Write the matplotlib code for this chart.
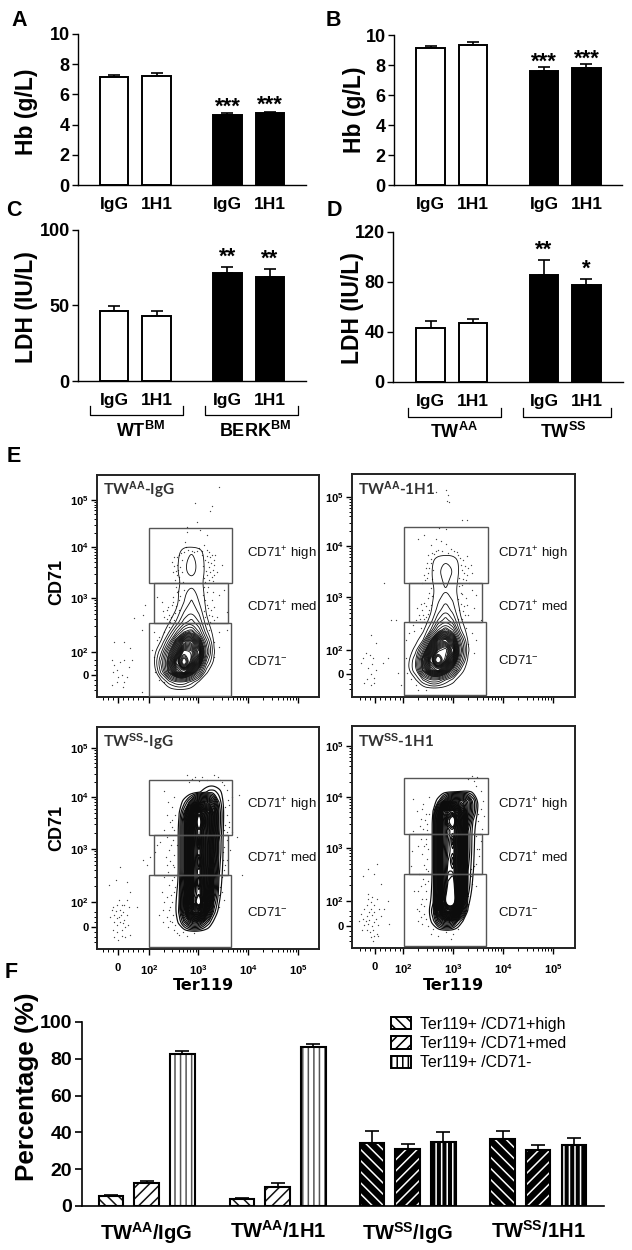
import numpy as np
import matplotlib
matplotlib.use('Agg')
import matplotlib.pyplot as plt
from matplotlib.collections import LineCollection
from matplotlib.lines import Line2D
from matplotlib.patches import Patch, Rectangle

plt.rcParams['font.family'] = ['Liberation Sans', 'DejaVu Sans']
plt.rcParams['mathtext.fontset'] = 'custom'
plt.rcParams['mathtext.rm'] = 'Liberation Sans'
plt.rcParams['mathtext.bf'] = 'Liberation Sans:bold'
plt.rcParams['mathtext.default'] = 'regular'
plt.rcParams['hatch.linewidth'] = 1.1

W, H = 632, 1250

# ---------- data: bar panels ----------
ab_labels = ['IgG', '1H1', 'IgG', '1H1']
hb_a = [7.15, 7.2, 4.65, 4.75]
hb_a_err = [0.15, 0.2, 0.1, 0.1]
hb_b = [9.15, 9.35, 7.6, 7.8]
hb_b_err = [0.15, 0.2, 0.25, 0.25]
ldh_c = [46.5, 43, 71.5, 69]
ldh_c_err = [3, 3.5, 4, 5.5]
ldh_d = [43, 47.5, 86, 77.5]
ldh_d_err = [6, 3, 12, 5]
stars_a = ['', '', '***', '***']
stars_b = ['', '', '***', '***']
stars_c = ['', '', '**', '**']
stars_d = ['', '', '**', '*']

f_groups = ['TW$^{\\mathbf{AA}}$/IgG', 'TW$^{\\mathbf{AA}}$/1H1',
            'TW$^{\\mathbf{SS}}$/IgG', 'TW$^{\\mathbf{SS}}$/1H1']
f_series = ['Ter119+ /CD71+high', 'Ter119+ /CD71+med', 'Ter119+ /CD71-']
f_high = [5.3, 3.8, 34.5, 36.5]
f_med = [12.3, 10.3, 30.8, 30.2]
f_neg = [82.5, 86.2, 34.8, 33.0]
f_high_err = [0.5, 0.5, 6.5, 4.2]
f_med_err = [1.3, 2.0, 2.7, 3.2]
f_neg_err = [1.6, 1.6, 5.5, 3.7]

# ---------- data: flow cytometry density grids (rows from top to bottom) ----------
aa_x = [2.1, 2.25, 2.4, 2.55, 2.7, 2.85, 3.0, 3.15, 3.3, 3.45]
aa_y = [4.2, 4.0, 3.8, 3.6, 3.4, 3.2, 3.0, 2.8, 2.6, 2.4, 2.2, 2.0, 1.8, 1.6, 1.4, 1.2]
aa_igg_z = [
    [0, 0, 0, 0, 0, 0, 0, 0, 0, 0],
    [0, 0, 0, .4, 1.8, 2.0, 1.6, .4, 0, 0],
    [0, 0, 0, .8, 1.7, 2.6, 1.6, .7, 0, 0],
    [0, 0, 0, .8, 1.8, 2.4, 1.7, .7, 0, 0],
    [0, 0, 0, .6, 1.4, 1.6, 1.4, .6, 0, 0],
    [0, 0, 0, .7, 1.8, 2.4, 1.7, .6, 0, 0],
    [0, 0, 0, .7, 2.0, 3.2, 2.0, .7, 0, 0],
    [0, 0, .3, 1.2, 3.0, 4.0, 2.8, .9, 0, 0],
    [0, 0, .9, 2.2, 4.5, 5.5, 4.0, 1.3, .2, 0],
    [0, .4, 2.0, 5.0, 8.0, 9.0, 6.0, 2.3, .5, 0],
    [0, 1.2, 4.5, 10., 15., 15., 11., 4.5, .9, 0],
    [.6, 3.0, 8.0, 13., 20., 19., 15., 6.0, 1.1, 0],
    [.9, 4.5, 10., 17., 26., 18., 12., 3.5, .8, 0],
    [.3, 3.5, 9.0, 14., 16., 11., 6.0, 1.2, .1, 0],
    [0, .6, 2.5, 4.0, 4.0, 2.5, .8, 0, 0, 0],
    [0, 0, 0, 0, 0, 0, 0, 0, 0, 0]]
aa_1h1_z = [
    [0, 0, 0, 0, 0, 0, 0, 0, 0, 0],
    [0, 0, 0, 0, 0, 0, 0, 0, 0, 0],
    [0, 0, 0, .6, 1.6, 1.9, 1.7, .6, 0, 0],
    [0, 0, 0, .8, 1.8, 2.6, 2.0, .7, 0, 0],
    [0, 0, 0, .8, 1.6, 2.3, 1.7, .6, 0, 0],
    [0, 0, 0, .5, 1.5, 2.0, 1.5, .4, 0, 0],
    [0, 0, 0, .6, 1.8, 2.8, 1.9, .5, 0, 0],
    [0, 0, .1, .8, 2.4, 3.9, 2.5, .8, 0, 0],
    [0, 0, .3, 1.3, 4.0, 5.5, 4.0, 1.2, .1, 0],
    [0, 0, .7, 3.0, 7.0, 9.0, 7.0, 2.2, .4, 0],
    [0, .5, 2.0, 8.0, 14., 16., 12., 5.0, .9, 0],
    [.2, 1.5, 6.0, 13., 19., 21., 16., 7.0, 1.2, 0],
    [.7, 3.0, 10., 17., 27., 19., 13., 5.0, .8, 0],
    [.8, 3.0, 9.0, 14., 16., 12., 7.0, 2.0, .1, 0],
    [0, .8, 3.0, 5.0, 5.0, 3.0, 1.5, .1, 0, 0],
    [0, 0, 0, 0, 0, 0, 0, 0, 0, 0]]

ss_x = [2.4, 2.5, 2.6, 2.7, 2.8, 2.9, 3.0, 3.1, 3.2, 3.3, 3.4, 3.5, 3.6]
ss_y = [4.4, 4.2, 4.0, 3.8, 3.6, 3.4, 3.2, 3.0, 2.8, 2.6, 2.4, 2.2, 2.0, 1.8, 1.6, 1.4]
ss_igg_z = [
    [0, 0, 0, 0, 0, 0, 0, 0, 0, 0, 0, 0, 0],
    [0, 0, 0, 0, 0, .3, .8, 1.5, 2.5, 2.5, 1.5, .5, 0],
    [0, 0, .3, 1.5, 4, 8, 12, 14, 12, 8, 3, .6, 0],
    [0, 0, .9, 4, 12, 24, 33, 26, 20, 12, 4, .8, 0],
    [0, 0, 1.1, 6, 16, 28, 40, 28, 20, 12, 4, .7, 0],
    [0, 0, 1.2, 6, 17, 27, 33, 26, 20, 11, 3.5, .6, 0],
    [0, 0, 1.2, 6, 17, 27, 35, 26, 19, 10, 3, .5, 0],
    [0, 0, 1.2, 6, 17, 28, 33, 26, 19, 10, 3, .5, 0],
    [0, 0, 1.2, 6, 17, 28, 36, 26, 19, 9, 2.5, .5, 0],
    [0, 0, 1.2, 6, 17, 29, 33, 26, 18, 8, 2.2, .4, 0],
    [0, 0, 1.3, 7, 18, 29, 36, 26, 18, 7, 1.8, .3, 0],
    [0, .2, 1.6, 8, 19, 30, 33, 26, 16, 6, 1.5, .2, 0],
    [0, .3, 2, 9, 20, 32, 40, 26, 14, 4, 1.1, 0, 0],
    [0, .3, 2.2, 8, 17, 24, 24, 17, 8, 2.5, .5, 0, 0],
    [0, .2, 1.3, 4, 7, 9, 8, 5, 2.5, .6, 0, 0, 0],
    [0, 0, 0, .1, .3, .4, .3, .1, 0, 0, 0, 0, 0]]
ss_1h1_z = [
    [0, 0, 0, 0, 0, 0, 0, 0, 0, 0, 0, 0, 0],
    [0, 0, 0, 0, 0, 0, 0, .3, .8, 1, .6, 0, 0],
    [0, 0, .3, 1.5, 5, 9, 12, 12, 11, 8, 4, 1, 0],
    [0, 0, 1, 8, 24, 28, 30, 24, 16, 8, 4, .8, 0],
    [0, 0, 1.2, 10, 26, 34, 40, 27, 18, 6, 2, .3, 0],
    [0, 0, 1.2, 10, 26, 30, 32, 26, 17, 4, 1.5, .1, 0],
    [0, 0, 1.2, 10, 26, 31, 35, 26, 16, 4, 1.4, .1, 0],
    [0, 0, 1.2, 10, 27, 31, 33, 26, 16, 4, 1.3, .1, 0],
    [0, 0, 1.2, 10, 27, 32, 35, 26, 16, 3.5, 1.2, 0, 0],
    [0, 0, 1.2, 10, 27, 33, 33, 26, 15, 3, 1.1, 0, 0],
    [0, 0, 1.3, 10, 28, 34, 36, 26, 15, 3, .8, 0, 0],
    [0, .1, 1.4, 10, 28, 36, 38, 26, 14, 2.5, .4, 0, 0],
    [0, .3, 1.6, 12, 30, 40, 42, 24, 10, 1.5, .1, 0, 0],
    [0, .5, 3, 12, 22, 28, 25, 16, 6, .8, 0, 0, 0],
    [0, .3, 1.6, 5, 8, 9, 7, 3, 1, .1, 0, 0, 0],
    [0, 0, 0, .1, .3, .4, .2, 0, 0, 0, 0, 0, 0]]

# ---------- data: scattered events (x, y) ----------
aa_igg_dots = [
    (2.92, 4.98), (3.25, 4.92), (3.22, 4.82), (2.95, 4.6), (2.75, 4.5), (2.75, 4.4), (3.02, 4.45), (3.15, 4.35),
    (2.72, 4.2), (3.4, 5.3), (2.5, 3.9), (2.55, 3.75), (2.48, 3.6), (2.6, 3.5), (2.52, 3.45), (2.65, 3.85),
    (2.7, 4.0), (2.78, 4.05), (2.9, 4.0), (3.0, 4.08), (3.1, 4.15), (3.15, 4.05), (3.25, 3.95), (3.3, 3.85),
    (3.2, 3.7), (3.28, 3.65), (3.15, 3.55), (3.25, 3.5), (3.35, 3.6), (3.12, 3.85), (3.2, 4.0), (2.58, 3.65),
    (2.62, 3.7), (3.05, 3.95), (3.45, 3.75), (2.68, 3.4), (2.56, 3.55), (3.18, 3.8), (3.22, 3.9), (2.85, 4.03),
    (3.08, 3.72), (3.14, 3.62), (2.6, 3.95), (2.46, 3.8), (3.3, 3.75), (3.1, 3.48), (2.66, 3.6), (3.27, 3.42),
    (2.15, 3.1), (2.25, 3.0), (2.35, 2.85), (2.4, 2.75), (2.3, 2.7), (2.45, 2.95), (2.55, 3.2), (2.6, 3.05),
    (2.5, 2.65), (2.6, 2.85), (3.15, 3.2), (3.25, 3.05), (3.3, 2.9), (3.2, 2.75), (3.35, 2.7), (3.1, 3.3),
    (3.4, 3.15), (3.5, 3.25), (3.55, 2.8), (3.3, 2.65), (3.15, 2.95), (2.7, 3.25), (2.42, 2.6), (2.38, 2.9),
    (2.52, 2.78), (2.48, 3.1), (3.22, 2.6), (3.27, 3.2), (2.33, 2.58), (2.56, 2.58), (3.12, 2.7), (2.28, 2.82),
    (2.1, 2.4), (2.15, 2.25), (2.3, 2.4), (2.4, 2.5), (3.2, 2.45), (3.4, 2.4), (3.55, 2.45), (3.3, 2.2),
    (3.4, 2.1), (2.1, 1.9), (2.12, 1.6), (2.2, 1.45), (2.3, 1.4), (2.05, 2.05), (3.3, 1.9), (2.2, 2.3),
    (1.25, 1.85), (1.3, 1.75), (1.35, 1.65), (1.42, 1.8), (1.5, 1.85), (1.28, 1.6), (1.38, 1.5), (1.45, 1.55),
    (1.5, 1.4), (1.55, 1.5), (1.6, 1.7), (1.35, 1.4), (1.47, 1.3), (1.25, 1.35), (1.3, 2.2), (1.5, 2.2),
    (1.65, 1.85), (1.62, 2.08), (1.92, 2.95), (1.88, 2.75), (1.7, 2.68), (1.85, 2.45), (1.85, 1.2),
    (2.54, 3.3), (2.58, 3.22), (2.62, 3.12), (2.47, 3.0), (2.53, 2.92), (2.44, 2.7), (2.36, 2.66), (3.12, 3.4),
    (3.18, 3.3), (3.08, 3.15), (3.12, 3.05), (3.18, 2.88), (3.24, 2.84), (3.1, 2.82), (3.26, 2.72), (3.16, 2.56),
    (2.55, 3.9), (2.64, 3.98), (2.74, 4.1), (2.96, 4.02), (3.06, 4.03), (3.16, 3.92), (3.24, 3.78), (3.22, 3.6),
    (2.5, 3.72), (2.54, 3.62), (2.6, 3.4), (3.2, 3.45), (3.3, 3.55), (3.32, 3.95)]
aa_1h1_dots = [
    (2.65, 5.15), (2.85, 5.2), (2.9, 5.1), (2.88, 4.98), (2.92, 4.95), (3.18, 4.6), (3.28, 4.6), (2.72, 4.45),
    (2.85, 4.42), (2.65, 4.22), (2.3, 4.22), (2.42, 4.3), (2.75, 4.18), (2.85, 4.12), (2.55, 4.1), (2.65, 3.98),
    (2.5, 3.9), (2.55, 3.75), (2.45, 3.65), (2.42, 3.5), (2.38, 3.35), (2.5, 3.55), (2.47, 3.45), (2.58, 3.95),
    (2.78, 3.98), (2.9, 3.95), (3.02, 3.98), (3.1, 3.9), (3.2, 3.8), (3.28, 3.88), (3.15, 3.7), (3.3, 3.65),
    (3.22, 3.55), (3.35, 3.7), (3.12, 3.45), (3.25, 3.4), (3.18, 3.3), (3.38, 3.55), (2.6, 3.6), (2.58, 3.42),
    (1.62, 3.35), (2.55, 3.25), (2.5, 3.05), (2.42, 2.95), (2.38, 2.8), (2.32, 2.7), (2.25, 2.6), (2.42, 2.62),
    (2.55, 2.9), (2.5, 2.72), (2.35, 2.92), (2.28, 2.85), (2.45, 2.55), (3.15, 3.15), (3.25, 3.05), (3.28, 2.9),
    (3.2, 2.78), (3.3, 2.7), (3.42, 2.85), (3.45, 3.1), (3.38, 3.2), (3.18, 2.62), (3.55, 2.6), (2.2, 2.5),
    (2.12, 2.35), (2.05, 2.2), (2.22, 2.38), (2.35, 2.45), (3.25, 2.45), (3.38, 2.35), (3.45, 2.2), (3.3, 2.12),
    (3.42, 1.95), (2.05, 1.85), (2.08, 1.55), (2.15, 1.42), (2.25, 1.3), (2.3, 1.2), (3.05, 1.6), (2.45, 1.2),
    (1.15, 1.75), (1.2, 1.85), (1.25, 1.95), (1.33, 1.9), (1.4, 1.85), (1.3, 1.65), (1.38, 1.72), (1.45, 1.6),
    (1.35, 1.52), (1.42, 1.45), (1.28, 1.42), (1.22, 1.35), (1.35, 1.3), (1.42, 1.35), (1.45, 2.15), (1.35, 2.3),
    (1.6, 1.75), (1.7, 1.85), (1.9, 1.55), (1.85, 2.6), (1.75, 2.6), (1.95, 1.3),
    (2.52, 3.15), (2.58, 3.08), (2.46, 2.88), (2.52, 2.8), (2.4, 2.7), (2.46, 2.66), (2.34, 2.62), (2.38, 2.56),
    (3.12, 3.28), (3.18, 3.12), (3.1, 3.02), (3.16, 2.92), (3.22, 2.88), (3.12, 2.8), (3.24, 2.7), (3.1, 2.62),
    (2.55, 3.82), (2.62, 3.92), (2.7, 4.0), (2.96, 4.02), (3.08, 3.96), (3.14, 3.84), (3.24, 3.68), (3.2, 3.42),
    (2.48, 3.75), (2.52, 3.65), (2.44, 3.4), (3.18, 3.6), (3.28, 3.5), (3.32, 3.35)]
ss_igg_dots = [
    (2.75, 4.55), (3.05, 4.5), (3.3, 4.55), (3.38, 4.5), (3.0, 4.42), (2.8, 4.4), (3.5, 4.35), (3.65, 4.1),
    (2.5, 4.1), (2.45, 3.9), (2.52, 3.75), (2.42, 3.6), (2.5, 3.45), (2.35, 3.3), (2.48, 3.25), (2.4, 3.05),
    (2.5, 2.95), (2.42, 2.82), (2.5, 2.7), (2.38, 2.6), (2.5, 2.5), (2.4, 2.35), (2.5, 2.2), (2.35, 2.1),
    (2.42, 1.9), (2.28, 1.85), (2.35, 1.7), (2.45, 1.6), (2.5, 1.45), (2.6, 1.35), (2.75, 1.32), (2.9, 1.38),
    (2.38, 1.5), (2.3, 2.0), (2.25, 2.2), (2.2, 1.75), (2.15, 3.15), (2.22, 3.2), (2.3, 3.45), (2.55, 3.15),
    (2.45, 2.0), (2.52, 2.3), (2.33, 2.9), (2.46, 3.65), (2.38, 4.0), (2.3, 4.22),
    (3.55, 4.25), (3.6, 3.95), (3.55, 3.75), (3.6, 3.6), (3.5, 3.45), (3.65, 3.4), (3.55, 3.25), (3.62, 3.05),
    (3.5, 3.1), (3.55, 2.85), (3.5, 2.65), (3.45, 2.5), (3.42, 2.3), (3.5, 2.05), (3.4, 1.9), (3.8, 4.15),
    (3.75, 3.3), (3.85, 2.55), (3.52, 3.9), (3.47, 2.85), (3.58, 4.05), (3.45, 4.4),
    (1.25, 1.85), (1.3, 1.75), (1.35, 1.95), (1.4, 1.7), (1.42, 1.85), (1.48, 1.8), (1.5, 1.95), (1.55, 2.05),
    (1.3, 1.6), (1.36, 1.55), (1.42, 1.6), (1.5, 1.65), (1.55, 1.75), (1.6, 1.9), (1.28, 1.45), (1.36, 1.4),
    (1.45, 1.45), (1.52, 1.5), (1.58, 1.55), (1.3, 1.3), (1.38, 1.25), (1.46, 1.32), (1.52, 1.3), (1.62, 1.35),
    (1.22, 1.7), (1.33, 1.82), (1.4, 2.05), (1.45, 1.95), (1.28, 1.9), (1.48, 1.58), (1.35, 1.68), (1.44, 1.75),
    (1.2, 2.35), (1.33, 2.45), (1.42, 2.7), (1.55, 2.4), (1.62, 2.2), (1.75, 1.9), (1.88, 2.85), (1.95, 2.75),
    (2.02, 2.9), (2.12, 3.0),
    (2.46, 3.5), (2.44, 3.15), (2.47, 2.75), (2.46, 2.45), (2.44, 2.15), (2.48, 1.75), (2.42, 1.62), (2.52, 1.55),
    (2.3, 2.5), (2.35, 3.75), (2.4, 3.35), (2.36, 2.75), (2.28, 1.6), (2.4, 1.85), (2.55, 1.38), (2.68, 1.4),
    (3.52, 3.55), (3.56, 3.4), (3.48, 3.0), (3.52, 2.75), (3.46, 2.2), (3.42, 2.55), (3.4, 2.15), (3.6, 3.5),
    (2.85, 4.47), (2.92, 4.5), (3.15, 4.45), (3.42, 4.45)]
ss_1h1_dots = [
    (3.3, 4.45), (3.38, 4.5), (3.48, 4.48), (3.45, 4.3), (3.55, 4.2), (3.6, 4.0), (3.55, 3.85), (3.62, 3.7),
    (3.5, 3.6), (3.58, 3.45), (3.45, 3.3), (3.55, 3.2), (3.48, 3.05), (3.52, 2.9), (3.42, 2.7), (3.35, 2.5),
    (3.45, 2.3), (3.3, 2.1), (3.25, 1.9), (3.1, 1.45), (2.95, 1.25), (2.85, 1.38), (2.7, 1.3), (2.6, 1.45),
    (2.4, 3.95), (2.52, 4.08), (2.38, 3.85), (2.45, 3.75), (2.35, 3.65), (2.48, 3.55), (2.4, 3.45), (2.5, 3.35),
    (2.35, 3.25), (2.45, 3.15), (2.5, 3.05), (2.38, 2.95), (2.48, 2.85), (2.42, 2.72), (2.5, 2.6), (2.4, 2.45),
    (2.35, 2.3), (2.45, 2.2), (2.38, 2.05), (2.42, 1.9), (2.32, 1.8), (2.45, 1.65), (2.38, 1.55), (2.5, 1.5),
    (2.2, 3.4), (2.18, 3.0), (2.15, 2.7), (2.22, 2.2), (2.27, 1.85), (2.3, 1.6), (2.2, 4.05), (2.5, 2.4),
    (2.52, 3.75), (2.46, 3.25), (2.32, 2.55), (2.28, 3.8),
    (1.15, 1.75), (1.2, 1.65), (1.27, 1.7), (1.32, 1.78), (1.38, 1.72), (1.45, 1.65), (1.22, 1.52), (1.3, 1.55),
    (1.38, 1.5), (1.42, 1.58), (1.5, 1.52), (1.27, 1.42), (1.33, 1.38), (1.4, 1.42), (1.47, 1.35), (1.36, 1.28),
    (1.22, 1.85), (1.28, 1.92), (1.35, 1.98), (1.42, 1.92), (1.48, 2.05), (1.38, 2.08), (1.3, 2.15), (1.52, 1.85),
    (1.12, 1.6), (1.18, 1.42), (1.32, 1.62), (1.42, 1.3), (1.35, 1.85), (1.25, 1.6), (1.3, 2.05), (1.42, 1.78),
    (1.4, 1.2), (1.5, 1.3), (1.55, 1.7), (1.62, 1.85), (1.2, 2.5), (1.3, 2.65), (1.42, 2.55), (1.48, 2.75),
    (1.55, 2.35), (1.7, 2.0), (1.72, 1.55),
    (2.44, 3.62), (2.47, 3.42), (2.42, 3.1), (2.46, 2.65), (2.44, 2.35), (2.46, 2.05), (2.42, 1.75), (2.36, 1.68),
    (2.3, 3.1), (2.34, 3.5), (2.3, 2.2), (2.36, 1.95), (3.5, 3.75), (3.54, 3.35), (3.46, 2.75), (3.52, 3.05),
    (3.38, 2.35), (3.36, 2.65), (3.3, 1.95), (2.55, 1.35), (3.0, 1.35), (3.42, 4.4)]


def axpx(L, T, R, B):
    return fig.add_axes([L / W, 1 - B / H, (R - L) / W, (B - T) / H])


def tx(x, y, s, **kw):
    kw.setdefault('ha', 'center')
    kw.setdefault('va', 'center')
    return fig.text(x / W, 1 - y / H, s, **kw)


def bar_panel(L, T, R, B, centers, vals, errs, ymax, ticks, ylabel, ylab_xy, stars, star_gap):
    ax = axpx(L, T, R, B)
    unit = centers[1] - centers[0]
    x = [0, 1, 2.67, 3.67]
    ax.set_xlim((L - centers[0]) / unit, (R - centers[0]) / unit)
    ax.set_ylim(0, ymax)
    cols = ['white', 'white', 'black', 'black']
    ax.errorbar(x, vals, yerr=[[0] * 4, errs], fmt='none', ecolor='k', elinewidth=1.2,
                capsize=4.6, capthick=1.2, zorder=1)
    ax.bar(x, vals, width=0.66, color=cols, edgecolor='k', linewidth=1.4, zorder=2)
    for xi, v, e, s in zip(x, vals, errs, stars):
        if s:
            ax.annotate(s, (xi, v + e), xytext=(0, (star_gap - 7) * 0.72), textcoords='offset points',
                        ha='center', va='baseline', fontsize=16, fontweight='bold')
    for sp in ('top', 'right'):
        ax.spines[sp].set_visible(False)
    for sp in ('left', 'bottom'):
        ax.spines[sp].set_linewidth(1.0)
    ax.set_yticks(ticks)
    ax.tick_params(axis='y', length=4, width=1.0, pad=2, labelsize=13)
    for t in ax.get_yticklabels():
        t.set_fontweight('bold')
    ax.set_xticks(x)
    ax.set_xticklabels(ab_labels, fontsize=12.5, fontweight='bold')
    ax.tick_params(axis='x', length=0, pad=8.5)
    ax.set_ylabel(ylabel, fontsize=16.5, fontweight='bold', va='center', ha='center')
    ax.yaxis.set_label_coords(ylab_xy[0] / W, 1 - ylab_xy[1] / H, transform=fig.transFigure)
    return ax


def rounded(poly, rounds=3):
    """Round the corners of a contour outline for drawing."""
    closed = len(poly) > 2 and np.allclose(poly[0], poly[-1])
    v = poly[:-1] if closed else poly
    for _ in range(rounds):
        nxt = np.roll(v, -1, axis=0)
        out = np.empty((2 * len(v), 2))
        out[0::2] = 0.75 * v + 0.25 * nxt
        out[1::2] = 0.25 * v + 0.75 * nxt
        v = out
    return np.vstack([v, v[0]])


def facs(L, T, R, B, xlim, ylim, xt, yt, x, y, z, levels, lw, dots, gates, title, text_x, labels_y, show_x):
    ax = axpx(L, T, R, B)
    ax.set_xlim(*xlim)
    ax.set_ylim(*ylim)
    cs = ax.contour(x, y, np.array(z), levels=levels)
    outlines = [rounded(p) for path in cs.get_paths() for p in path.to_polygons(closed_only=False)]
    cs.remove()
    ax.add_collection(LineCollection(outlines, colors='#0c0c0c', linewidths=lw, zorder=2))
    ax.scatter([d[0] for d in dots], [d[1] for d in dots], s=0.9, color='#444444', linewidths=0, zorder=1)
    for (x0, x1, y0, y1) in gates:
        ax.add_patch(Rectangle((x0, y0), x1 - x0, y1 - y0, fill=False, edgecolor='#555555', linewidth=1.0, zorder=3))
    for sp in ax.spines.values():
        sp.set_linewidth(1.4)
        sp.set_color('#222222')
    ax.set_xticks(xt)
    ax.set_yticks(yt)
    ax.set_yticklabels(['0', '$\\mathbf{10^{2}}$', '$\\mathbf{10^{3}}$', '$\\mathbf{10^{4}}$', '$\\mathbf{10^{5}}$'],
                       fontsize=8, fontweight='bold')
    xminor = [xt[i] + np.log10(k) * (xt[i + 1] - xt[i]) for i in range(1, 4) for k in range(2, 10)]
    yminor = [yt[i] + np.log10(k) * (yt[i + 1] - yt[i]) for i in range(1, 4) for k in range(2, 10)]
    xminor += [xt[0] + d for d in (-.3, -.2, -.1, .1, .2, .3, .4, .5)]
    yminor += [yt[0] + d for d in (-.3, -.2, -.1, .1, .2, .3)]
    ax.set_xticks(xminor, minor=True)
    ax.set_yticks(yminor, minor=True)
    ax.tick_params(which='major', length=4, width=1.0, pad=2)
    ax.tick_params(which='minor', length=2, width=0.7)
    if show_x:
        ax.set_xticklabels(['0', '$\\mathbf{10^{2}}$', '$\\mathbf{10^{3}}$', '$\\mathbf{10^{4}}$', '$\\mathbf{10^{5}}$'],
                           fontsize=8, fontweight='bold')
        ax.tick_params(axis='x', which='major', pad=6)
    else:
        ax.set_xticklabels([])
    tx(L + 6, T + 15, title, ha='left', fontsize=11, fontweight='bold', color='#333333',
       family=['Lato', 'DejaVu Sans'])
    for ly, s in zip(labels_y, ['CD71$^{+}$ high', 'CD71$^{+}$ med', 'CD71$^{-}$']):
        tx(text_x, ly, s, ha='left', fontsize=9.5, color='#111111')
    return ax


fig = plt.figure(figsize=(W / 100, H / 100), dpi=100, facecolor='white')

# ---------- panels A-D ----------
c_left = [114, 156.5, 227.5, 269.5]
c_right = [430.5, 473, 544, 587]
bar_panel(78, 34, 306, 185, c_left, hb_a, hb_a_err, 10, [0, 2, 4, 6, 8, 10], 'Hb (g/L)', (27, 112), stars_a, 8)
bar_panel(394, 35, 622, 185, c_right, hb_b, hb_b_err, 10, [0, 2, 4, 6, 8, 10], 'Hb (g/L)', (354, 110), stars_b, 7)
bar_panel(78, 230, 306, 381, c_left, ldh_c, ldh_c_err, 100, [0, 50, 100], 'LDH (IU/L)', (26, 307), stars_c, 11)
bar_panel(393, 232, 623, 382, c_right, ldh_d, ldh_d_err, 120, [0, 40, 80, 120], 'LDH (IU/L)', (352, 308), stars_d, 11)

for s, x, y in [('A', 19, 20), ('B', 333, 20), ('C', 14, 211), ('D', 334, 211), ('E', 14, 456), ('F', 11, 973)]:
    tx(x, y, s, fontsize=15.5, fontweight='bold')

for (x0, x1, y0, y1) in [(89.5, 182.7, 406, 415), (205, 297.6, 406, 415), (408, 501, 408, 417), (523, 611, 408, 417)]:
    fig.add_artist(Line2D([x0 / W, x0 / W, x1 / W, x1 / W], [1 - y0 / H, 1 - y1 / H, 1 - y1 / H, 1 - y0 / H],
                          transform=fig.transFigure, color='k', lw=0.9))
for x, y, s in [(141, 431, 'WT$^{\\mathbf{BM}}$'), (255, 431, 'BERK$^{\\mathbf{BM}}$'),
                (454, 432, 'TW$^{\\mathbf{AA}}$'), (563, 432, 'TW$^{\\mathbf{SS}}$')]:
    tx(x, y, s, fontsize=13, fontweight='bold')

# ---------- panel E ----------
lv_aa = [1, 2, 3, 4, 5, 6, 7, 8, 8.5, 9, 9.5, 10, 10.5, 11, 11.5, 12, 12.5, 13, 13.5, 14, 14.5, 15, 15.5,
         16, 16.5, 17, 17.5, 18, 18.5, 19, 20, 21, 22, 23]
lv_ss = list(range(1, 35))
facs(97, 475, 319, 697, (0.96, 5.4), (1.1, 5.54), [1.38, 2, 2.98, 3.98, 4.98], [1.54, 2, 3.08, 4.10, 5.04],
     aa_x, aa_y, aa_igg_z, lv_aa, 0.6, aa_igg_dots,
     [(2.0, 3.66, 3.38, 4.48), (2.1, 3.58, 2.58, 3.38), (2.0, 3.64, 1.12, 2.58)],
     'TW$^{\\mathbf{AA}}$-IgG', 247, [554, 607, 661], False)
facs(352, 474, 575, 697, (0.98, 5.44), (1.06, 5.52), [1.44, 2, 3, 4, 5], [1.52, 2, 3.06, 4.08, 5.06],
     aa_x, aa_y, aa_1h1_z, lv_aa, 0.6, aa_1h1_dots,
     [(2.02, 3.7, 3.34, 4.46), (2.12, 3.58, 2.56, 3.34), (2.02, 3.66, 1.1, 2.56)],
     'TW$^{\\mathbf{AA}}$-1H1', 498, [554, 607, 660], False)
facs(97, 727, 319, 949, (0.96, 5.4), (1.06, 5.5), [1.38, 2, 2.98, 3.98, 4.98], [1.5, 2, 3.06, 4.1, 5.08],
     ss_x, ss_y, ss_igg_z, lv_ss, 0.85, ss_igg_dots,
     [(2.0, 3.66, 3.34, 4.44), (2.1, 3.58, 2.54, 3.34), (2.0, 3.64, 1.1, 2.54)],
     'TW$^{\\mathbf{SS}}$-IgG', 247, [805, 858, 912], True)
facs(352, 726, 575, 948, (0.98, 5.44), (1.06, 5.5), [1.44, 2, 3, 4, 5], [1.5, 2, 3.06, 4.08, 5.1],
     ss_x, ss_y, ss_1h1_z, lv_ss, 0.85, ss_1h1_dots,
     [(2.02, 3.7, 3.34, 4.46), (2.12, 3.58, 2.54, 3.34), (2.02, 3.66, 1.1, 2.54)],
     'TW$^{\\mathbf{SS}}$-1H1', 498, [805, 858, 912], True)

tx(57, 582, 'CD71', rotation=90, fontsize=13, fontweight='bold')
tx(57, 828, 'CD71', rotation=90, fontsize=13, fontweight='bold')
tx(203, 986, 'Ter119', fontsize=11.5, fontweight='bold', family=['DejaVu Sans'])
tx(453, 986, 'Ter119', fontsize=11.5, fontweight='bold', family=['DejaVu Sans'])

# ---------- panel F ----------
axf = axpx(82, 1022, 604, 1206)
unit = 36
x0 = 111
axf.set_xlim((82 - x0) / unit, (604 - x0) / unit)
axf.set_ylim(0, 100)
group_x = [0, 3.64, 7.25, 10.875]
hatches = ['\\\\\\', '///', '|||']
for j, (vals, errs, h) in enumerate(zip((f_high, f_med, f_neg), (f_high_err, f_med_err, f_neg_err), hatches)):
    xs = np.array(group_x) + j * 0.99
    axf.errorbar(xs, vals, yerr=[[0] * 4, errs], fmt='none', ecolor='k', elinewidth=1.2, capsize=5, capthick=1.2, zorder=1)
    axf.bar(xs[:2], vals[:2], width=0.68, color='white', edgecolor='#555555' if j == 2 else '#111111',
            hatch=h, linewidth=0, zorder=2)
    axf.bar(xs[2:], vals[2:], width=0.68, color='black', edgecolor='white', hatch=h, linewidth=0, zorder=2)
    axf.bar(xs, vals, width=0.68, fill=False, edgecolor='k', linewidth=1.5, zorder=3)
for sp in ('top', 'right'):
    axf.spines[sp].set_visible(False)
for sp in ('left', 'bottom'):
    axf.spines[sp].set_linewidth(1.2)
axf.set_yticks([0, 20, 40, 60, 80, 100])
axf.tick_params(axis='y', length=5, width=1.2, pad=2, labelsize=14)
for t in axf.get_yticklabels():
    t.set_fontweight('bold')
axf.set_xticks(np.array(group_x) + 0.99)
axf.set_xticklabels(f_groups, fontsize=14.5, fontweight='bold')
axf.tick_params(axis='x', length=0, pad=10)
axf.set_ylabel('Percentage (%)', fontsize=18.8, fontweight='bold', va='center', ha='center')
axf.yaxis.set_label_coords(27 / W, 1 - 1087 / H, transform=fig.transFigure)
handles = [Patch(facecolor='white', edgecolor='k', hatch=h, linewidth=1.4, label=s)
           for h, s in zip(hatches, f_series)]
leg = axf.legend(handles=handles, loc='upper left', bbox_to_anchor=((389 - 82) / 522, 1 + 7 / 184),
                 frameon=False, fontsize=11.4, handlelength=1.27, handleheight=0.82,
                 handletextpad=0.57, labelspacing=0.28, borderpad=0.1, borderaxespad=0)

fig.savefig('out.png', dpi=100, facecolor='white')
